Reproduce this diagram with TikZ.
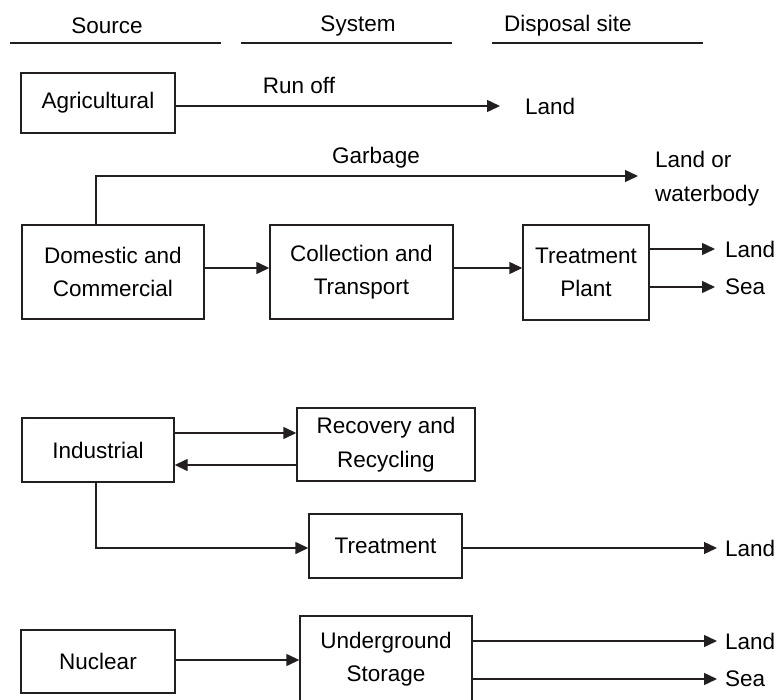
\documentclass[tikz,border=0pt]{standalone}
\usepackage{fontspec}
\setmainfont{Liberation Sans}
\usetikzlibrary{arrows.meta}
\definecolor{ln}{HTML}{231F20}
\begin{document}
\begin{tikzpicture}[x=1pt,y=-1pt,
  every node/.style={font=\fontsize{22.5}{33.5}\selectfont, inner sep=0pt},
  box/.style={draw=ln, line width=1.4pt, align=center, minimum width=#1},
  lbl/.style={anchor=west, align=left},
  arr/.style={draw=ln, line width=1.4pt, -{Triangle[length=13pt,width=12pt]}},
  plain/.style={draw=ln, line width=1.4pt},
  hdr/.style={draw=ln, line width=1.4pt}]
\useasboundingbox (0,0) rectangle (779,699);
% header
\node (hsrc) at (107,26) {Source};
\node (hsys) at (358,26) {System};
\node[anchor=west] (hdis) at (504,26) {Disposal site};
\coordinate (l1a) at (10,43); \coordinate (l1b) at (221,43);
\coordinate (l2a) at (241,43); \coordinate (l2b) at (452,43);
\coordinate (l3a) at (492,43); \coordinate (l3b) at (703,43);
\draw[hdr] (l1a) -- (l1b);
\draw[hdr] (l2a) -- (l2b);
\draw[hdr] (l3a) -- (l3b);
% agricultural
\node[box=154pt, minimum height=60pt] (agri) at (98,103) {Agricultural};
\node[lbl] (land1) at (525,106) {Land};
\node (runoff) at (299,85) {Run off};
\draw[arr] (agri.east |- land1.west) -- ([xshift=-25pt]land1.west);
% domestic row
\node[box=182pt, minimum height=94pt] (dom) at (113,272) {Domestic and\\Commercial};
\node[box=183pt, minimum height=94pt] (coll) at (361.5,272) {Collection and\\Transport};
\node[box=126pt, minimum height=95pt] (treat) at (586,272.5) {Treatment\\Plant};
\node[lbl] (lw) at (655,178.5) {Land or\\waterbody};
\node (garb) at (376,158) {Garbage};
\coordinate (gup) at (96,176);
\coordinate (gend) at (655,176);
\draw[arr] (dom.north -| gup) -- (gup) -- ([xshift=-17pt]gend);
\coordinate (dy) at (0,268);
\draw[arr] (dom.east |- dy) -- (coll.west |- dy);
\draw[arr] (coll.east |- dy) -- (treat.west |- dy);
\node[lbl] (land2) at (725,249) {Land};
\node[lbl] (sea2) at (725,287) {Sea};
\draw[arr] (treat.east |- land2.west) -- ([xshift=-10pt]land2.west);
\draw[arr] (treat.east |- sea2.west) -- ([xshift=-10pt]sea2.west);
% industrial
\node[box=152pt, minimum height=64pt] (ind) at (98,450) {Industrial};
\node[box=178pt, minimum height=73pt] (rec) at (386,444.5) {Recovery and\\Recycling};
\node[box=153pt, minimum height=64pt] (tr2) at (385.5,546) {Treatment};
\coordinate (iy1) at (0,433);
\coordinate (iy2) at (0,465);
\draw[arr] (ind.east |- iy1) -- (rec.west |- iy1);
\draw[arr] (rec.west |- iy2) -- (ind.east |- iy2);
\coordinate (idn) at (96,548);
\draw[arr] (ind.south -| idn) -- (idn) -- (tr2.west |- idn);
\node[lbl] (land3) at (725,548) {Land};
\draw[arr] (tr2.east |- land3.west) -- ([xshift=-8pt]land3.west);
% nuclear
\node[box=154pt, minimum height=63pt] (nuc) at (98,661.5) {Nuclear};
\node[box=172pt, minimum height=86pt] (und) at (386,659) {Underground\\Storage};
\coordinate (ny) at (0,660);
\draw[arr] (nuc.east |- ny) -- (und.west |- ny);
\node[lbl] (land4) at (725,641) {Land};
\node[lbl] (sea4) at (725,679) {Sea};
\draw[arr] (und.east |- land4.west) -- ([xshift=-8pt]land4.west);
\draw[arr] (und.east |- sea4.west) -- ([xshift=-8pt]sea4.west);
\end{tikzpicture}
\end{document}
